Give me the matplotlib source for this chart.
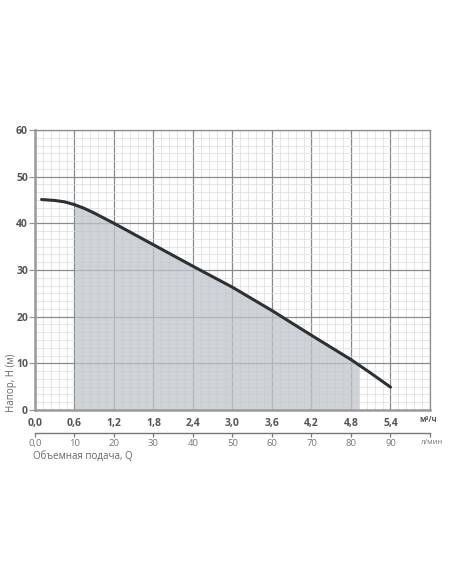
import numpy as np
import matplotlib.pyplot as plt
from matplotlib.ticker import MultipleLocator, FixedLocator

plt.rcParams['font.family'] = ['Open Sans', 'DejaVu Sans']

# кривая насоса: подача (м3/ч) и напор (м)
q = [0.1, 0.3, 0.45, 0.6, 0.75, 0.9, 1.05, 1.2, 1.5, 1.8, 2.4, 3.0, 3.6, 4.2, 4.8, 5.1, 5.4]
h = [45.1, 44.9, 44.6, 44.0, 43.2, 42.2, 41.1, 40.0, 37.7, 35.4, 30.8, 26.3, 21.3, 16.0, 10.8, 7.9, 4.9]

# рабочая зона (закрашена)
work_from = 0.6
work_to = 4.92

q_ticks = [0.0, 0.6, 1.2, 1.8, 2.4, 3.0, 3.6, 4.2, 4.8, 5.4]
q_labels = ['0,0', '0,6', '1,2', '1,8', '2,4', '3,0', '3,6', '4,2', '4,8', '5,4']
lpm_ticks = [0, 10, 20, 30, 40, 50, 60, 70, 80, 90, 100]
lpm_labels = ['0,0', '10', '20', '30', '40', '50', '60', '70', '80', '90', '']
h_ticks = [0, 10, 20, 30, 40, 50, 60]

fig = plt.figure(figsize=(4.52, 5.84), dpi=100)
ax = fig.add_axes([35 / 452, 174 / 584, 395 / 452, 280 / 584])

ax.set_xlim(0, 6.0)
ax.set_ylim(0, 60)

# сетка
ax.xaxis.set_major_locator(FixedLocator(q_ticks + [6.0]))
ax.xaxis.set_minor_locator(MultipleLocator(0.12))
ax.yaxis.set_major_locator(FixedLocator(h_ticks))
ax.yaxis.set_minor_locator(MultipleLocator(10 / 6))
ax.grid(which='minor', color='#dedede', lw=0.55)
ax.grid(which='major', color='#8a8a8a', lw=0.9)
ax.set_axisbelow(True)

# закраска рабочей зоны
qf = np.linspace(work_from, work_to, 200)
hf = np.interp(qf, q, h)
ax.fill_between(qf, 0, hf, color='#bfc5cb', alpha=0.75, lw=0, zorder=1)

ax.plot(q, h, color='#2c3136', lw=2.2, solid_capstyle='round',
        solid_joinstyle='round', zorder=3)

ax.set_xticklabels(q_labels + [''])
ax.set_yticks(h_ticks)
ax.set_yticklabels([str(v) for v in h_ticks])
ax.tick_params(which='minor', length=0)
ax.tick_params(axis='x', which='major', length=0, pad=6,
               labelsize=7.5, labelcolor='#555555')
ax.tick_params(axis='y', which='major', length=4, width=0.9, color='#999999',
               pad=1, labelsize=7.5, labelcolor='#555555')
for lbl in ax.get_xticklabels() + ax.get_yticklabels():
    lbl.set_fontweight('bold')

for s in ['top', 'right']:
    ax.spines[s].set_color('#8a8a8a')
    ax.spines[s].set_linewidth(0.9)
for s in ['left', 'bottom']:
    ax.spines[s].set_color('#9a9a9a')
    ax.spines[s].set_linewidth(1.8)

# вторая шкала в л/мин
sec = ax.secondary_xaxis(-23 / 280, functions=(lambda x: x * 1000 / 60,
                                                lambda x: x * 60 / 1000))
sec.set_xticks(lpm_ticks)
sec.set_xticklabels(lpm_labels)
sec.tick_params(length=3, width=0.9, color='#777777', pad=1.5,
                labelsize=6.8, labelcolor='#777777')
sec.spines['bottom'].set_color('#777777')
sec.spines['bottom'].set_linewidth(1.0)

fig.text(428 / 452, 1 - 420 / 584, 'м³/ч', fontsize=5.5, color='#555555',
         fontweight='bold', ha='center', va='center')
fig.text(432 / 452, 1 - 443 / 584, 'л/мин', fontsize=5.5, color='#777777',
         ha='center', va='center')
fig.text(33 / 452, 1 - 456 / 584, 'Объемная подача, Q', fontsize=7,
         color='#666666', ha='left', va='center')
fig.text(12 / 452, 1 - 412 / 584, 'Напор, H (м)', fontsize=7,
         color='#666666', rotation=90, ha='center', va='bottom')

fig.savefig('out.png', dpi=100, facecolor='white')
